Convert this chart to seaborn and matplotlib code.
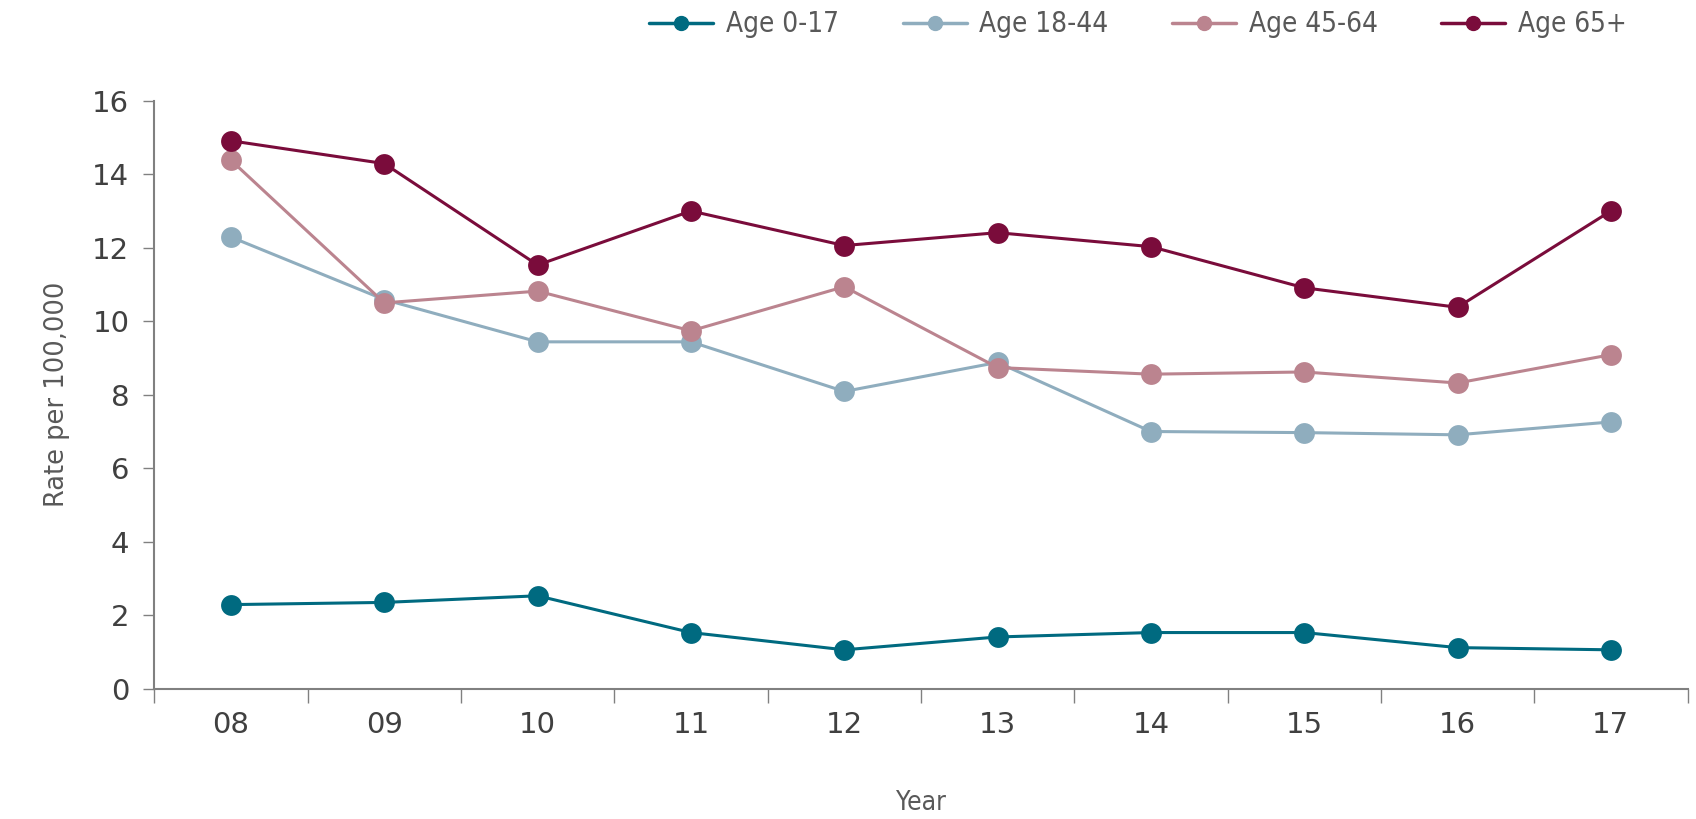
import pandas as pd
import seaborn as sns
import matplotlib.pyplot as plt
from matplotlib.ticker import FixedLocator, NullFormatter, FixedFormatter

years = ["08", "09", "10", "11", "12", "13", "14", "15", "16", "17"]
age_0_17 = [2.29, 2.35, 2.53, 1.53, 1.06, 1.41, 1.53, 1.53, 1.12, 1.06]
age_18_44 = [12.29, 10.59, 9.44, 9.44, 8.09, 8.88, 7.0, 6.97, 6.91, 7.26]
age_45_64 = [14.38, 10.5, 10.82, 9.74, 10.94, 8.74, 8.56, 8.62, 8.32, 9.09]
age_65_plus = [14.91, 14.29, 11.53, 13.0, 12.06, 12.41, 12.03, 10.91, 10.38, 13.0]

groups = ["Age 0-17", "Age 18-44", "Age 45-64", "Age 65+"]
colors = ["#006a80", "#8fadbe", "#bb848f", "#7a0c3b"]

df = pd.concat([
    pd.DataFrame({"Year": years, "Rate": vals, "Group": g})
    for g, vals in zip(groups, [age_0_17, age_18_44, age_45_64, age_65_plus])
])
df["pos"] = df["Year"].map({y: i for i, y in enumerate(years)})

sns.set_style("white")
plt.rcParams["font.family"] = ["DejaVu Sans"]

fig = plt.figure(figsize=(16.96, 8.19), dpi=100)
ax = fig.add_axes([0.091, 0.159, 0.904, 0.718])

sns.lineplot(data=df, x="pos", y="Rate", hue="Group", palette=dict(zip(groups, colors)),
             marker="o", markersize=15, markeredgewidth=0, linewidth=2.2, ax=ax, legend=False)

ax.set_xlim(-0.5, 9.5)
ax.set_ylim(0, 16)
ax.set_yticks(range(0, 17, 2))
ax.xaxis.set_major_locator(FixedLocator([i - 0.5 for i in range(11)]))
ax.xaxis.set_major_formatter(NullFormatter())
ax.xaxis.set_minor_locator(FixedLocator(list(range(10))))
ax.xaxis.set_minor_formatter(FixedFormatter(years))
ax.tick_params(axis="x", which="major", direction="out", length=10, width=1, color="#808080", bottom=True)
ax.tick_params(axis="x", which="minor", length=0, pad=16, labelsize=21, labelcolor="#404040")
ax.tick_params(axis="y", direction="out", length=8, width=1, color="#808080", left=True,
               labelsize=21, labelcolor="#404040", pad=10)

for side in ["top", "right"]:
    ax.spines[side].set_visible(False)
for side in ["left", "bottom"]:
    ax.spines[side].set_color("#808080")
    ax.spines[side].set_linewidth(1.5)

ax.set_ylabel("Rate per 100,000", fontsize=18.5, color="#595959", labelpad=16)
ax.set_xlabel("Year", fontsize=19, color="#595959", labelpad=37, fontstretch="condensed")

handles = [plt.Line2D([], [], color=c, marker="o", markersize=10, linewidth=2.5) for c in colors]
fig.legend(handles, groups, loc="upper center", bbox_to_anchor=(0.671, 1.018), ncol=4,
           frameon=False, handlelength=2.3, columnspacing=2.3, handletextpad=0.45,
           labelcolor="#595959", prop={"family": ["DejaVu Sans"], "size": 20, "stretch": "condensed"})

fig.savefig("out.png", dpi=100)
